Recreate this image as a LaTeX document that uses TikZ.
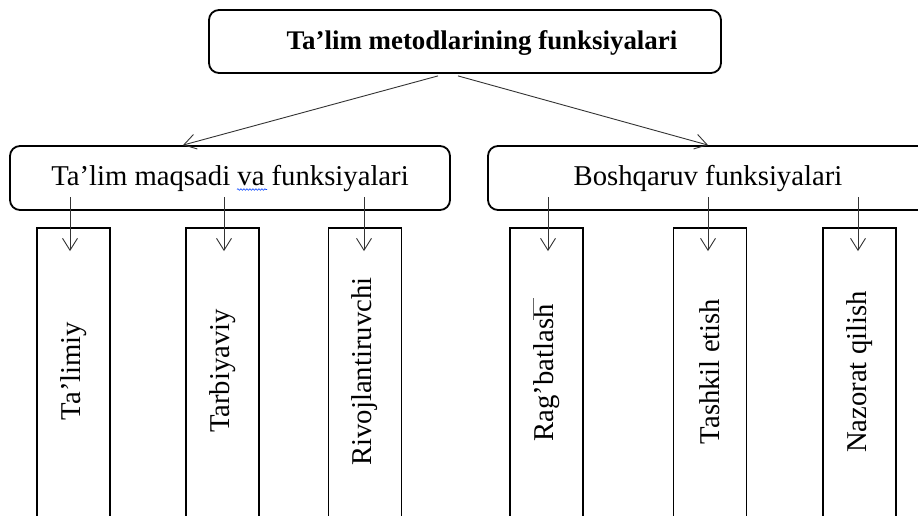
\documentclass[tikz,border=0pt]{standalone}
\usepackage{fontspec}
\setmainfont{Liberation Serif}
\usetikzlibrary{arrows.meta,calc,decorations.pathmorphing}
\begin{document}
\begin{tikzpicture}[x=1pt,y=1pt,
  rbox/.style={draw, line width=1.8pt, rounded corners=10pt, inner sep=0pt},
  vbox/.style={draw, line width=1.8pt, inner sep=0pt, minimum width=73pt, minimum height=312pt},
  arr/.style={draw=black!80, line width=0.9pt, -{Straight Barb[length=12pt,width=15pt]}},
  lbl/.style={font=\fontsize{28.7}{32}\selectfont, inner sep=0pt},
  vlbl/.style={lbl, rotate=90}]
\useasboundingbox (0,0) rectangle (918,-515);
\fill[white] (0,0) rectangle (918,-515);
\clip (0,0) rectangle (918,-515);

% top
\node[rbox, minimum width=512pt, minimum height=63pt] (top) at (465,-41.5) {};
\node[font=\bfseries\fontsize{26.9}{30}\selectfont, inner sep=0pt] (toptxt) at (482,-42.5) {Ta’lim metodlarining funksiyalari};

% middle
\node[rbox, minimum width=440pt, minimum height=64pt] (m1) at (230,-178) {};
\node[lbl] (m1txt) at (230,-178) {Ta’lim maqsadi va funksiyalari};
\node[rbox, minimum width=440pt, minimum height=64pt] (m2) at (708,-178) {};
\node[lbl] (m2txt) at (708,-178) {Boshqaruv funksiyalari};

% spell-check underline
\draw[blue!75!cyan, line width=0.6pt, decorate, decoration={snake, amplitude=0.8pt, segment length=3pt}] (237,-189.5) -- (267,-189.5);

% vertical boxes
\node[vbox] (b1) at (73.5,-384) {};
\node[vbox] (b2) at (222.5,-384) {};
\node[vbox] (b3) at (365,-384) {};
\node[vbox] (b4) at (546.5,-384) {};
\node[vbox] (b5) at (710,-384) {};
\node[vbox] (b6) at (859.5,-384) {};

\node[vlbl] (t1) at (73.5,-371) {Ta’limiy};
\node[vlbl] (t2) at (222.5,-371) {Tarbiyaviy};
\node[vlbl] (t3) at (365,-371.5) {Rivojlantiruvchi};
\node[vlbl] (t4) at (546.5,-373) {Rag’batlash};
\node[vlbl] (t5) at (710,-371.5) {Tashkil etish};
\node[vlbl] (t6) at (859.5,-372) {Nazorat qilish};

\draw[black!60, line width=0.7pt] ($(t4.north east)+(0,6)$) -- ++(0,-22);

% arrows from top
\draw[arr] ($(top.south)+(-27,-2)$) -- ($(m1.north)+(-47,0)$);
\draw[arr] ($(top.south)+(-7,-2)$) -- (m2.north);

% arrows to vertical boxes
\draw[arr] ($(b1.north)+(-3.5,30)$) -- ($(b1.north)+(-3.5,-24)$);
\draw[arr] ($(b2.north)+(1.5,30)$) -- ($(b2.north)+(1.5,-24)$);
\draw[arr] ($(b3.north)+(-1,30)$) -- ($(b3.north)+(-1,-24)$);
\draw[arr] ($(b4.north)+(1.5,30)$) -- ($(b4.north)+(1.5,-24)$);
\draw[arr] ($(b5.north)+(-2,30)$) -- ($(b5.north)+(-2,-24)$);
\draw[arr] ($(b6.north)+(-1.5,30)$) -- ($(b6.north)+(-1.5,-24)$);
\end{tikzpicture}
\end{document}
